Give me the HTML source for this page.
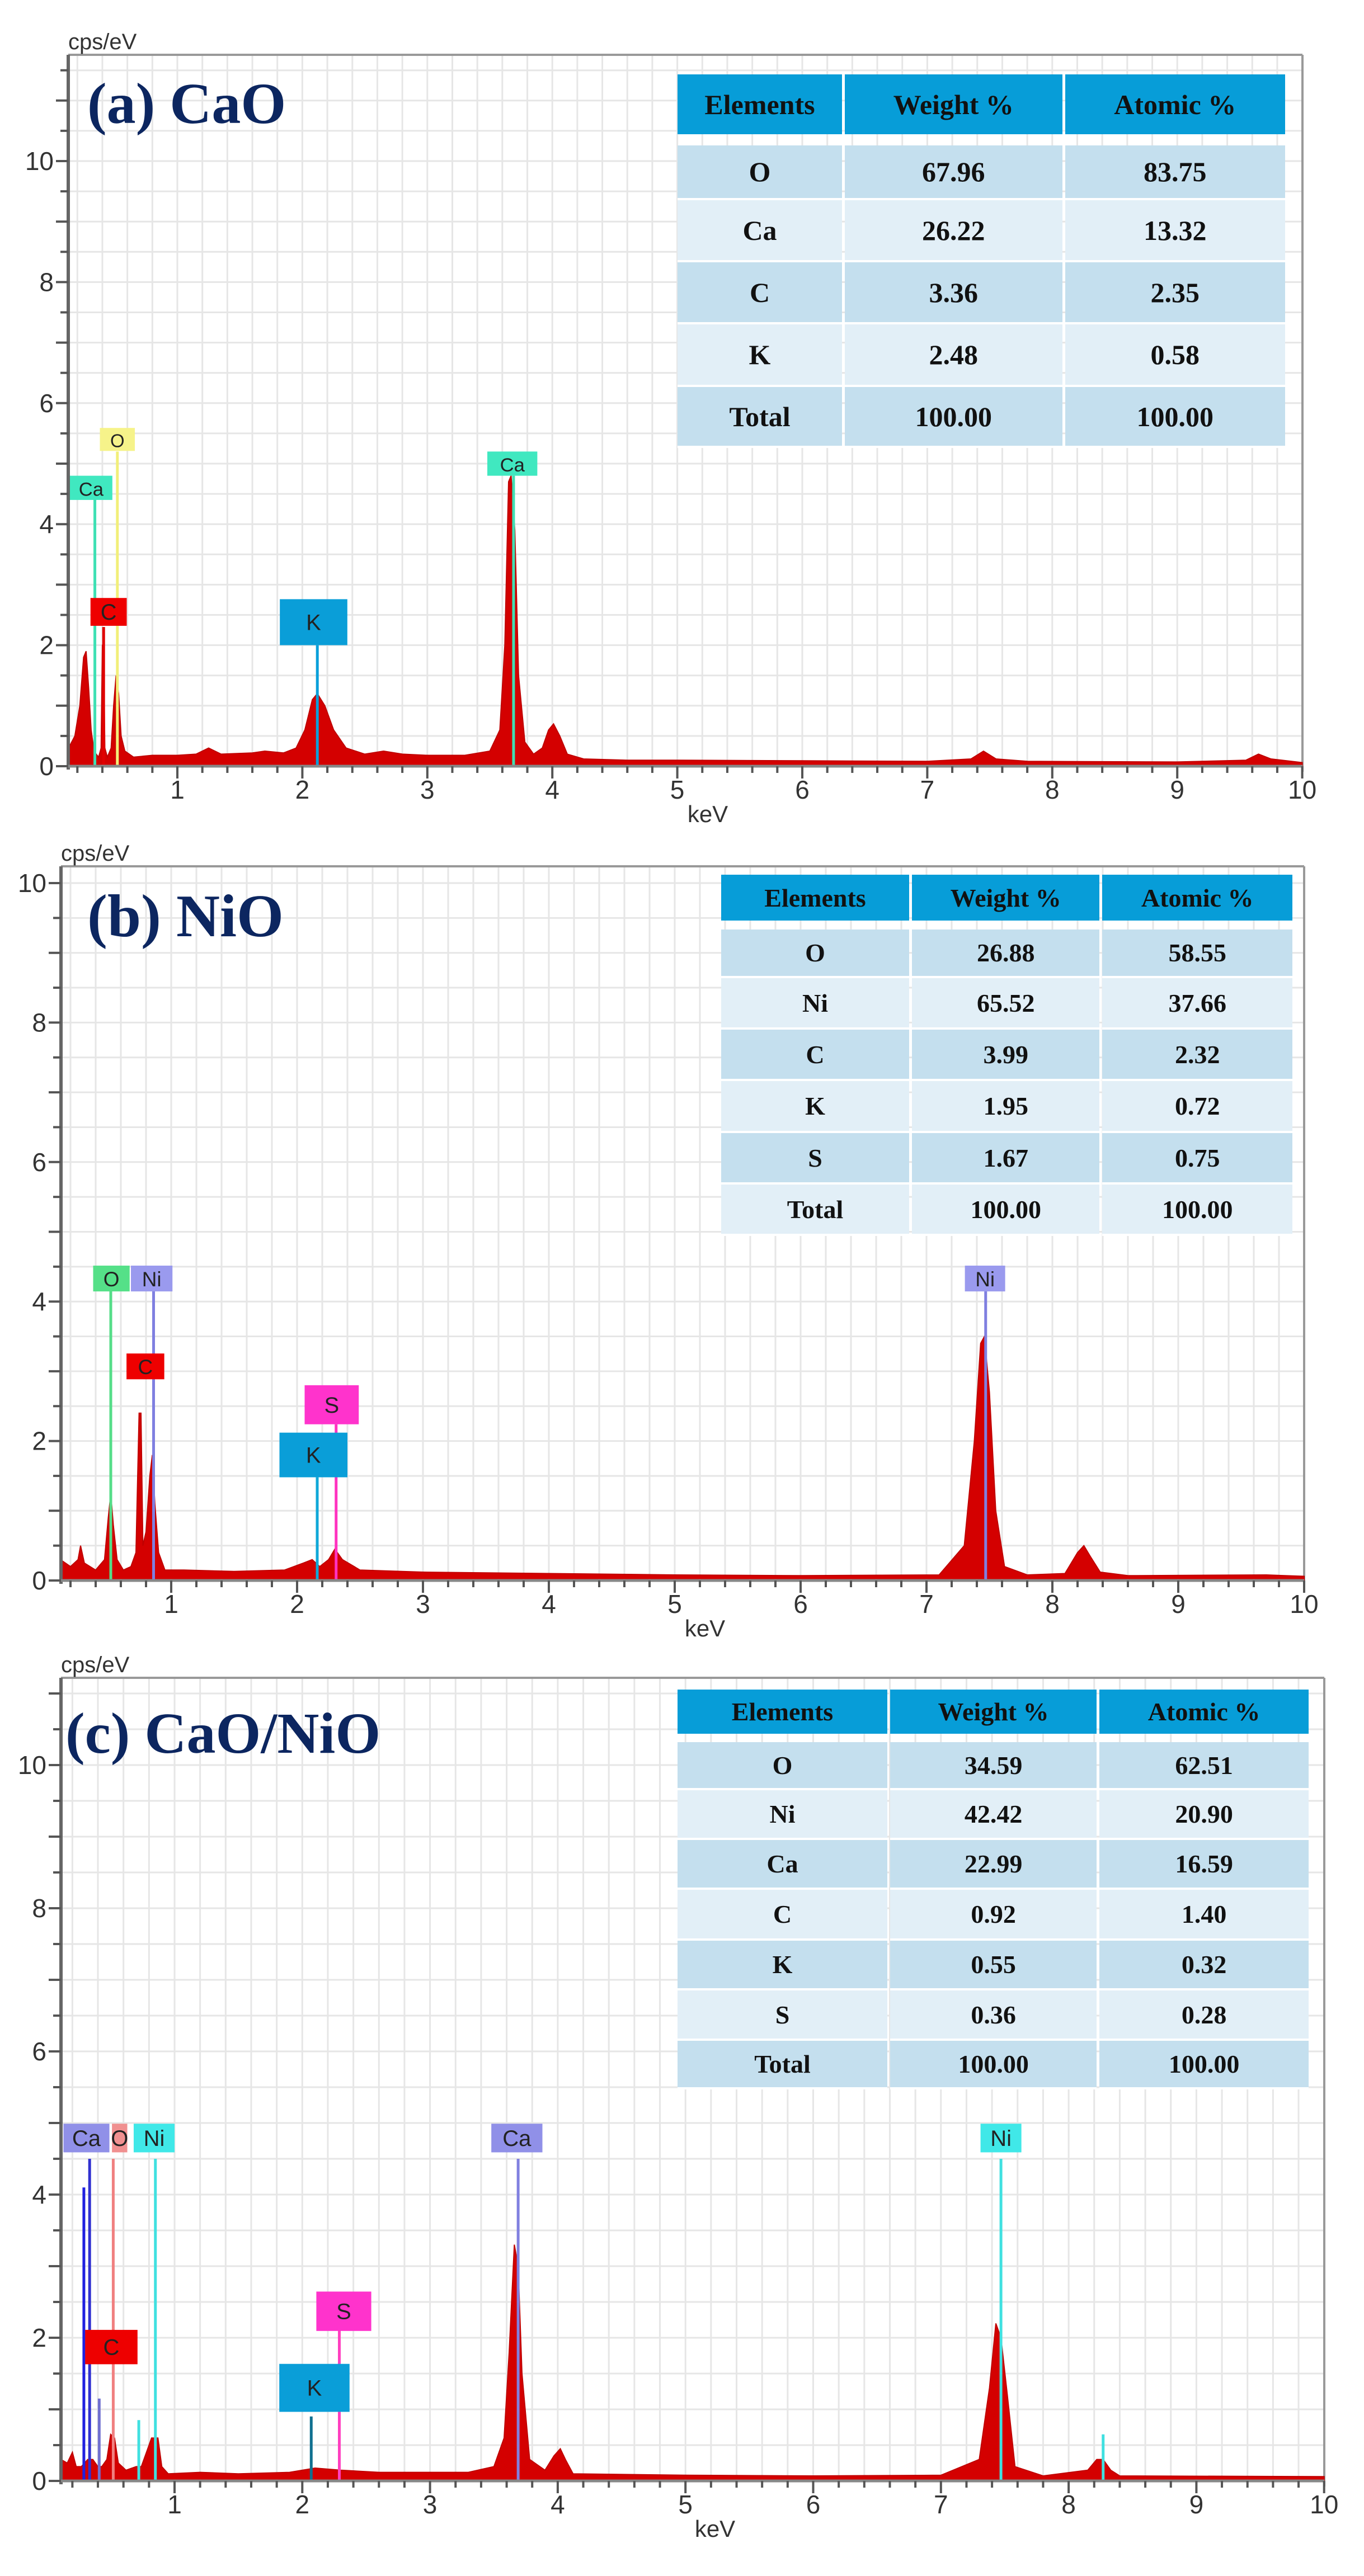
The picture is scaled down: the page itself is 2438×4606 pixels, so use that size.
<!DOCTYPE html>
<html><head><meta charset="utf-8"><style>
html,body{margin:0;padding:0;background:#fff;}
svg{display:block;}
.tbl{position:absolute;border-collapse:separate;border-spacing:5px 0;font-family:"Liberation Serif",serif;font-weight:bold;color:#111;}
.ptitle{position:absolute;font-family:"Liberation Serif",serif;font-weight:bold;color:#0c2660;white-space:nowrap;}
</style></head><body>
<div style="position:relative;width:2438px;height:4606px;overflow:hidden">
<svg id="svg" width="2438" height="4606" xmlns="http://www.w3.org/2000/svg"></svg>
</div>
<script>
// ---- Panel (a) CaO spectrum ----
const aE=[0.13,0.18,0.22,0.25,0.27,0.29,0.31,0.33,0.35,0.37,0.39,0.40,0.41,0.42,0.44,0.47,0.49,0.51,0.53,0.55,0.58,0.65,0.8,1.0,1.15,1.25,1.35,1.6,1.7,1.85,1.95,2.02,2.08,2.12,2.18,2.25,2.35,2.5,2.65,2.8,3.0,3.3,3.5,3.58,3.62,3.65,3.67,3.70,3.73,3.78,3.85,3.92,3.97,4.01,4.06,4.12,4.25,4.6,5,6,7,7.35,7.45,7.55,7.8,9,9.55,9.65,9.75,10];
const aY=[0.3,0.5,1.0,1.8,1.9,1.3,0.6,0.3,0.2,0.15,0.3,2.0,2.0,0.3,0.15,0.3,1.0,1.5,1.2,0.5,0.25,0.15,0.18,0.18,0.2,0.3,0.2,0.22,0.25,0.22,0.3,0.6,1.1,1.2,1.0,0.6,0.3,0.2,0.25,0.2,0.18,0.18,0.25,0.6,2.0,4.7,4.8,3.9,1.5,0.4,0.2,0.3,0.6,0.7,0.5,0.2,0.12,0.1,0.1,0.09,0.08,0.12,0.25,0.12,0.08,0.07,0.1,0.2,0.12,0.06];
// ---- Panel (b) NiO spectrum ----
const bE=[0.12,0.2,0.26,0.28,0.31,0.4,0.47,0.5,0.52,0.54,0.57,0.62,0.68,0.72,0.745,0.76,0.775,0.8,0.83,0.85,0.87,0.9,0.95,1.1,1.5,1.9,2.05,2.12,2.18,2.25,2.3,2.36,2.5,3,4,5,6,7.1,7.3,7.38,7.43,7.46,7.5,7.55,7.62,7.8,8.1,8.2,8.25,8.3,8.38,8.6,9.7,10];
const bY=[0.3,0.2,0.3,0.5,0.25,0.15,0.3,0.9,1.25,0.8,0.3,0.15,0.2,0.4,2.4,2.4,0.5,0.7,1.5,1.8,1.1,0.4,0.15,0.15,0.13,0.15,0.25,0.3,0.2,0.3,0.45,0.3,0.15,0.12,0.1,0.08,0.07,0.08,0.5,2.0,3.4,3.5,2.7,1.0,0.2,0.08,0.1,0.4,0.5,0.35,0.12,0.07,0.08,0.06];
// ---- Panel (c) CaO/NiO spectrum ----
const cE=[0.11,0.16,0.2,0.23,0.27,0.32,0.36,0.40,0.43,0.47,0.5,0.53,0.56,0.62,0.7,0.74,0.78,0.82,0.85,0.87,0.9,0.95,1.2,1.5,1.9,2.1,2.3,2.6,3.3,3.5,3.58,3.62,3.66,3.69,3.72,3.78,3.9,3.97,4.02,4.06,4.12,5,6,7,7.3,7.38,7.43,7.47,7.52,7.58,7.8,8.15,8.22,8.27,8.33,8.4,10];
const cY=[0.3,0.25,0.4,0.2,0.2,0.3,0.3,0.2,0.2,0.3,0.65,0.6,0.25,0.15,0.2,0.2,0.4,0.6,0.6,0.6,0.2,0.1,0.12,0.1,0.12,0.18,0.15,0.12,0.12,0.2,0.6,1.8,3.3,3.0,1.5,0.3,0.15,0.35,0.45,0.3,0.1,0.08,0.07,0.08,0.3,1.3,2.2,2.0,1.2,0.2,0.07,0.15,0.3,0.3,0.15,0.07,0.06];

// ---- element marker lines: energy, top value, colour ----
const aMkE=[0.34,0.52,0.41,2.12,3.69];
const aMkTop=[4.45,5.2,2.3,2.0,4.8];
const aMkCol=['#3fe0b4','#f2ef7a','#e00000','#0aa0da','#3fe0b4'];
const bMkE=[0.52,0.86,2.31,2.16,7.47];
const bMkTop=[4.15,4.15,2.24,1.48,4.15];
const bMkCol=['#55dd88','#7f7fe0','#ff33c0','#10a8d8','#7f7fe0'];
const cMkE=[0.29,0.335,0.41,0.52,0.72,0.85,2.29,2.07,3.69,7.47,8.27];
const cMkTop=[4.1,4.5,1.15,4.5,0.85,4.5,2.1,0.9,4.5,4.5,0.65];
const cMkCol=['#2020e0','#3030d0','#7070d0','#f08080','#40e0e0','#40e0e0','#ff40c0','#107090','#8080e0','#40e0e0','#40e0e0'];

// ---- element labels: text, centre energy, centre value, box width (keV), box height (value) ----
const aLbText=['Ca','O','C','K','Ca'];
const aLbE=[0.31,0.52,0.45,2.09,3.68];
const aLbY=[4.6,5.4,2.55,2.38,5.0];
const aLbW=[0.34,0.28,0.29,0.54,0.40];
const aLbH=[0.40,0.38,0.46,0.76,0.40];
const aLbCol=['#40e8c0','#f6f38a','#ee0000','#0a9ed8','#40e8c0'];
const bLbText=['O','Ni','C','S','K','Ni'];
const bLbE=[0.525,0.845,0.795,2.275,2.13,7.465];
const bLbY=[4.33,4.33,3.07,2.52,1.80,4.33];
const bLbW=[0.29,0.33,0.30,0.43,0.54,0.32];
const bLbH=[0.37,0.37,0.37,0.56,0.64,0.37];
const bLbCol=['#55e088','#9a9aee','#ee0000','#ff33cc','#0a9ed8','#9a9aee'];
const cLbText=['Ca','O','Ni','C','S','K','Ca','Ni'];
const cLbE=[0.31,0.57,0.84,0.505,2.325,2.095,3.68,7.47];
const cLbY=[4.79,4.79,4.79,1.87,2.37,1.30,4.79,4.79];
const cLbW=[0.36,0.12,0.32,0.41,0.43,0.55,0.40,0.32];
const cLbH=[0.40,0.40,0.40,0.48,0.55,0.67,0.40,0.40];
const cLbCol=['#9090e8','#f09090','#40e8e8','#ee0000','#ff33cc','#0a9ed8','#9090e8','#40e8e8'];

// ---- composition tables ----
const aRows=[['O','67.96','83.75'],['Ca','26.22','13.32'],['C','3.36','2.35'],['K','2.48','0.58'],['Total','100.00','100.00']];
const bRows=[['O','26.88','58.55'],['Ni','65.52','37.66'],['C','3.99','2.32'],['K','1.95','0.72'],['S','1.67','0.75'],['Total','100.00','100.00']];
const cRows=[['O','34.59','62.51'],['Ni','42.42','20.90'],['Ca','22.99','16.59'],['C','0.92','1.40'],['K','0.55','0.32'],['S','0.36','0.28'],['Total','100.00','100.00']];
const xTicks=[1,2,3,4,5,6,7,8,9,10];
const yTicks=[0,2,4,6,8,10];

const NS='http://www.w3.org/2000/svg';
const svg=document.getElementById('svg');
function mk(tag,attrs,parent){const e=document.createElementNS(NS,tag);for(const k in attrs)e.setAttribute(k,attrs[k]);(parent||svg).appendChild(e);return e;}

const panels=[
 {id:'a',L:122,R:2328,x1:317,ppk:223.4,y0:1370,ppu:108.2,top:98,E:aE,Y:aY,mkE:aMkE,mkTop:aMkTop,mkCol:aMkCol,lbT:aLbText,lbE:aLbE,lbY:aLbY,lbW:aLbW,lbH:aLbH,lbC:aLbCol,rows:aRows,
  tb:{x:1211,y:133,w:1086,hh:107,rh:[98,111,111,112,109],gap:20,fs:50,c1:294},title:'(a) CaO',tt:{x:156,y:228,fs:104}},
 {id:'b',L:109,R:2331,x1:306,ppk:225,y0:2826,ppu:124.7,top:1549,E:bE,Y:bY,mkE:bMkE,mkTop:bMkTop,mkCol:bMkCol,lbT:bLbText,lbE:bLbE,lbY:bLbY,lbW:bLbW,lbH:bLbH,lbC:bLbCol,rows:bRows,
  tb:{x:1289,y:1564,w:1021,hh:82,rh:[87,92,92,93,92,92],gap:16,fs:46,c1:336},title:'(b) NiO',tt:{x:156,y:1682,fs:108}},
 {id:'c',L:109,R:2367,x1:312,ppk:228.3,y0:4436,ppu:128,top:3000,E:cE,Y:cY,mkE:cMkE,mkTop:cMkTop,mkCol:cMkCol,lbT:cLbText,lbE:cLbE,lbY:cLbY,lbW:cLbW,lbH:cLbH,lbC:cLbCol,rows:cRows,
  tb:{x:1211,y:3021,w:1128,hh:79,rh:[86,89,89,91,89,90,87],gap:15,fs:46,c1:375},title:'(c) CaO/NiO',tt:{x:117,y:3142,fs:104}}
];

panels.forEach(p=>{
 const X=e=>p.x1+(e-1)*p.ppk;
 const Yv=v=>p.y0-v*p.ppu;
 const xmin=1-(p.x1-p.L)/p.ppk;
 const g=mk('g',{});
 
 
 // grid
 const gg=mk('g',{stroke:'#e6e6e6','stroke-width':3},g);
 
 
 for(let k=Math.ceil(xmin*5);k<50;k++){const x=X(k/5);if(x>p.L+4)mk('line',{x1:x,y1:p.top,x2:x,y2:p.y0},gg);}
 for(let k=1;Yv(k/2)>p.top+4;k++){mk('line',{x1:p.L,y1:Yv(k/2),x2:p.R,y2:Yv(k/2)},gg);}
 // frame
 mk('line',{x1:p.L,y1:p.top,x2:p.R,y2:p.top,stroke:'#999','stroke-width':4},g);
 mk('line',{x1:p.R,y1:p.top,x2:p.R,y2:p.y0+10,stroke:'#999','stroke-width':4},g);
 // spectrum
 let d='M'+X(p.E[0])+','+p.y0;
 for(let i=0;i<p.E.length;i++)d+=' L'+X(p.E[i]).toFixed(1)+','+Yv(p.Y[i]).toFixed(1);
 d+=' L'+X(p.E[p.E.length-1])+','+p.y0+' Z';
 const sp=mk('path',{d:d,fill:'#d40000',stroke:'#c00000','stroke-width':2},g);
 
 
 // marker lines
 for(let i=0;i<p.mkE.length;i++){
  const l=mk('line',{x1:X(p.mkE[i]),y1:p.y0,x2:X(p.mkE[i]),y2:Yv(p.mkTop[i]),stroke:p.mkCol[i],'stroke-width':5},g);
  
  
 }
 // labels
 for(let i=0;i<p.lbT.length;i++){
  const w=p.lbW[i]*p.ppk,h=p.lbH[i]*p.ppu,cx=X(p.lbE[i]),cy=Yv(p.lbY[i]);
  const r=mk('rect',{x:cx-w/2,y:cy-h/2,width:w,height:h,fill:p.lbC[i]},g);
  
  
  const t=mk('text',{x:cx,y:cy+h*0.0+14,'text-anchor':'middle','font-family':'Liberation Sans, sans-serif','font-size':Math.min(40,h*0.8),fill:'#222'},g);
  t.textContent=p.lbT[i];
  
  
 }
 // axes
 mk('line',{x1:p.L,y1:p.top,x2:p.L,y2:p.y0+6,stroke:'#666','stroke-width':6},g);
 mk('line',{x1:p.L,y1:p.y0,x2:p.R,y2:p.y0,stroke:'#888','stroke-width':5},g);
 for(let k=Math.ceil(xmin*5);k<=50;k++){const x=X(k/5);const big=k%5==0;mk('line',{x1:x,y1:p.y0,x2:x,y2:p.y0+(big?22:12),stroke:'#555','stroke-width':4},g);}
 for(let k=0;Yv(k/2)>p.top+4;k++){mk('line',{x1:p.L-(k%2==0?22:14),y1:Yv(k/2),x2:p.L,y2:Yv(k/2),stroke:'#555','stroke-width':4},g);}
 xTicks.forEach(v=>{const t=mk('text',{x:X(v),y:p.y0+58,'text-anchor':'middle','font-family':'Liberation Sans, sans-serif','font-size':46,fill:'#333'},g);t.textContent=v;
  
  });
 yTicks.forEach(v=>{const t=mk('text',{x:p.L-26,y:Yv(v)+16,'text-anchor':'end','font-family':'Liberation Sans, sans-serif','font-size':46,fill:'#333'},g);t.textContent=v;
  
  });
 const xl=mk('text',{x:(p.L+p.R)/2+40,y:p.y0+100,'text-anchor':'middle','font-family':'Liberation Sans, sans-serif','font-size':42,fill:'#333'},g);xl.textContent='keV';
 
 
 const yl=mk('text',{x:p.L,y:p.top-10,'font-family':'Liberation Sans, sans-serif','font-size':40,fill:'#333'},g);yl.textContent='cps/eV';
 
 

 // title
 const ti=document.createElement('div');
 ti.className='ptitle';ti.textContent=p.title;
 ti.style.left=p.tt.x+'px';ti.style.top=(p.tt.y-p.tt.fs*0.9)+'px';ti.style.fontSize=p.tt.fs+'px';ti.style.lineHeight='1';
 
 
 document.body.firstElementChild.appendChild(ti);

 // table
 const tb=p.tb;
 const tbl=document.createElement('table');
 tbl.className='tbl';
 tbl.style.left=(tb.x-5)+'px';tbl.style.top=tb.y+'px';tbl.style.width=(tb.w+10)+'px';tbl.style.fontSize=tb.fs+'px';
 
 
 const hr=tbl.insertRow();
 ['Elements','Weight %','Atomic %'].forEach((h,j)=>{const c=hr.insertCell();c.textContent=h;c.style.cssText='background:#079dd8;height:'+tb.hh+'px;text-align:center;padding:0;'+(j==0?'width:'+tb.c1+'px;':'');});
 const sp2=tbl.insertRow();const sc=sp2.insertCell();sc.colSpan=3;sc.style.cssText='height:'+tb.gap+'px;padding:0;';
 p.rows.forEach((row,i)=>{const r=tbl.insertRow();
  row.forEach(v=>{const c=r.insertCell();c.textContent=v;c.style.cssText='background:'+(i%2==0?'#c4dfee':'#e2eff7')+';height:'+(tb.rh[i]-4)+'px;text-align:center;padding:0;border-bottom:4px solid #fff;';});});
 document.body.firstElementChild.appendChild(tbl);
});
</script>
</body></html>
